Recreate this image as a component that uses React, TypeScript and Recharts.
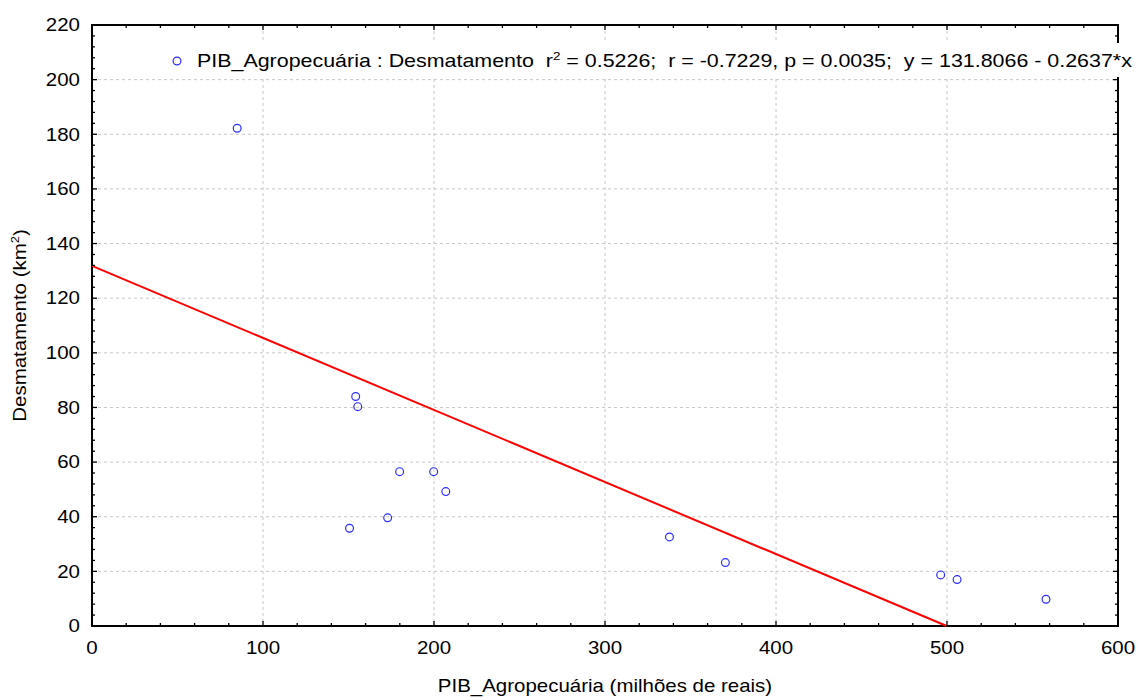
import React from 'react';
import {
  ScatterChart,
  Scatter,
  XAxis,
  YAxis,
  CartesianGrid,
  ReferenceLine,
  ReferenceArea,
  Legend,
} from 'recharts';

// PIB Agropecuária (milhões de reais)
const pibValues = [84.9, 154.2, 155.4, 179.9, 199.8, 206.9, 172.9, 150.6, 337.7, 370.4, 496.3, 505.9, 557.9];
// Desmatamento (km²)
const desmValues = [182.2, 84.0, 80.3, 56.5, 56.5, 49.2, 39.6, 35.8, 32.6, 23.2, 18.7, 17.0, 9.8];

// regression line endpoints: y = 131.8066 - 0.2637*x
const fitX = [0, 499.8];
const fitY = [131.8066, 0];

const xTicks = [0, 100, 200, 300, 400, 500, 600];
const yTicks = [0, 20, 40, 60, 80, 100, 120, 140, 160, 180, 200, 220];
const xMinorTicks = [0, 20, 40, 60, 80, 100, 120, 140, 160, 180, 200, 220, 240, 260, 280, 300, 320, 340, 360, 380, 400, 420, 440, 460, 480, 500, 520, 540, 560, 580, 600];
const yMinorTicks = [0, 4, 8, 12, 16, 20, 24, 28, 32, 36, 40, 44, 48, 52, 56, 60, 64, 68, 72, 76, 80, 84, 88, 92, 96, 100, 104, 108, 112, 116, 120, 124, 128, 132, 136, 140, 144, 148, 152, 156, 160, 164, 168, 172, 176, 180, 184, 188, 192, 196, 200, 204, 208, 212, 216, 220];

const data = pibValues.map((x, i) => ({ x, y: desmValues[i] }));

const CHART_W = 1138;
const CHART_H = 698;
const M_TOP = 25;
const M_RIGHT = 20;
const X_AXIS_H = 72;
const Y_AXIS_W = 92;
const PLOT_W = CHART_W - M_RIGHT - Y_AXIS_W;
const PLOT_H = CHART_H - M_TOP - X_AXIS_H;
const X_TICK_MARGIN = 16;
const Y_TICK_MARGIN = 12;
const MAJOR_LEN = 5;
const MINOR_LEN = 3;

const FONT = '"Liberation Sans", Arial, Helvetica, sans-serif';
const FS = 17.5;
const SX = 1.17;
const LSX = 1.225;
const BLUE = '#2a2aff';
const RED = '#ff0000';

const XTick = (props: any) => {
  const { x, y, payload } = props;
  const v = payload.value;
  const isMajor = xTicks.includes(v);
  const len = isMajor ? MAJOR_LEN : MINOR_LEN;
  const bottom = y - X_TICK_MARGIN;
  const top = bottom - PLOT_H;
  return (
    <g>
      <line x1={x} x2={x} y1={bottom} y2={bottom - len} stroke="#000" strokeWidth={1.3} />
      <line x1={x} x2={x} y1={top} y2={top + len} stroke="#000" strokeWidth={1.3} />
      {isMajor && (
        <text
          transform={`translate(${x},${y}) scale(${SX},1)`}
          textAnchor="middle"
          dy="0.71em"
          fontSize={FS}
          fontFamily={FONT}
          fill="#000"
        >
          {v}
        </text>
      )}
    </g>
  );
};

const YTick = (props: any) => {
  const { x, y, payload } = props;
  const v = payload.value;
  const isMajor = yTicks.includes(v);
  const len = isMajor ? MAJOR_LEN : MINOR_LEN;
  const left = x + Y_TICK_MARGIN;
  const right = left + PLOT_W;
  return (
    <g>
      <line x1={left} x2={left + len} y1={y} y2={y} stroke="#000" strokeWidth={1.3} />
      <line x1={right} x2={right - len} y1={y} y2={y} stroke="#000" strokeWidth={1.3} />
      {isMajor && (
        <text
          transform={`translate(${x},${y}) scale(${SX},1)`}
          textAnchor="end"
          dy="0.36em"
          fontSize={FS}
          fontFamily={FONT}
          fill="#000"
        >
          {v}
        </text>
      )}
    </g>
  );
};

const XLabel = (props: any) => {
  const vb = props.viewBox || { x: Y_AXIS_W, y: M_TOP + PLOT_H, width: PLOT_W, height: X_AXIS_H };
  const cx = vb.x + vb.width / 2;
  const cy = vb.y + vb.height - 6;
  return (
    <text
      transform={`translate(${cx},${cy}) scale(${SX},1)`}
      textAnchor="middle"
      fontSize={FS}
      fontFamily={FONT}
      fill="#000"
      style={{ whiteSpace: 'pre' }}
    >
      PIB_Agropecuária (milhões de reais)
    </text>
  );
};

const YLabel = (props: any) => {
  const vb = props.viewBox || { x: 0, y: M_TOP, width: Y_AXIS_W, height: PLOT_H };
  const cx = vb.x + 26;
  const cy = vb.y + vb.height / 2;
  return (
    <text
      transform={`translate(${cx},${cy}) rotate(-90) scale(${SX},1)`}
      textAnchor="middle"
      fontSize={FS}
      fontFamily={FONT}
      fill="#000"
      style={{ whiteSpace: 'pre' }}
    >
      Desmatamento (km<tspan dy={-7} fontSize={11}>2</tspan>
      <tspan dy={7}>)</tspan>
    </text>
  );
};

const LegendContent = () => (
  <svg width={975} height={34} style={{ display: 'block', overflow: 'visible' }}>
    <rect x={-3} y={-6} width={975} height={34} fill="#fff" />
    <circle cx={9} cy={12} r={3.9} fill="none" stroke={BLUE} strokeWidth={1.2} />
    <text
      transform={`translate(29,18) scale(${LSX},1)`}
      fontSize={FS}
      fontFamily={FONT}
      fill="#000"
      style={{ whiteSpace: 'pre' }}
    >
      {'PIB_Agropecuária : Desmatamento  r'}
      <tspan dy={-7} fontSize={11}>2</tspan>
      <tspan dy={7}>{' = 0.5226;  r = -0.7229, p = 0.0035;  y = 131.8066 - 0.2637*x'}</tspan>
    </text>
  </svg>
);

const Dot = (props: any) => {
  const { cx, cy } = props;
  if (cx == null || cy == null) return null;
  return <circle cx={cx} cy={cy} r={3.9} fill="none" stroke={BLUE} strokeWidth={1.2} />;
};

export default function App() {
  return (
    <div style={{ position: 'absolute', left: 0, top: 0, background: '#fff' }}>
      <ScatterChart
        width={CHART_W}
        height={CHART_H}
        margin={{ top: M_TOP, right: M_RIGHT, bottom: 0, left: 0 }}
      >
        <CartesianGrid
          stroke="#c8c8c8"
          strokeDasharray="3 3"
          strokeWidth={1}
          verticalValues={xTicks}
          horizontalValues={yTicks}
        />
        <XAxis
          dataKey="x"
          type="number"
          domain={[0, 600]}
          ticks={xMinorTicks}
          interval={0}
          height={X_AXIS_H}
          tickSize={0}
          tickMargin={X_TICK_MARGIN}
          tickLine={false}
          axisLine={false}
          tick={<XTick />}
          label={<XLabel />}
        />
        <YAxis
          dataKey="y"
          type="number"
          domain={[0, 220]}
          ticks={yMinorTicks}
          interval={0}
          width={Y_AXIS_W}
          tickSize={0}
          tickMargin={Y_TICK_MARGIN}
          tickLine={false}
          axisLine={false}
          tick={<YTick />}
          label={<YLabel />}
        />
        <ReferenceArea
          x1={0}
          x2={600}
          y1={0}
          y2={220}
          fill="none"
          fillOpacity={0}
          stroke="#000"
          strokeWidth={2}
          ifOverflow="visible"
        />
        <ReferenceLine
          segment={[
            { x: fitX[0], y: fitY[0] },
            { x: fitX[1], y: fitY[1] },
          ]}
          stroke={RED}
          strokeWidth={2}
          ifOverflow="visible"
        />
        <Scatter data={data} shape={<Dot />} isAnimationActive={false} />
        <Legend
          layout="horizontal"
          verticalAlign="middle"
          align="center"
          content={<LegendContent />}
          wrapperStyle={{ position: 'absolute', top: 49, left: 168, width: 975, height: 34 }}
        />
      </ScatterChart>
    </div>
  );
}
